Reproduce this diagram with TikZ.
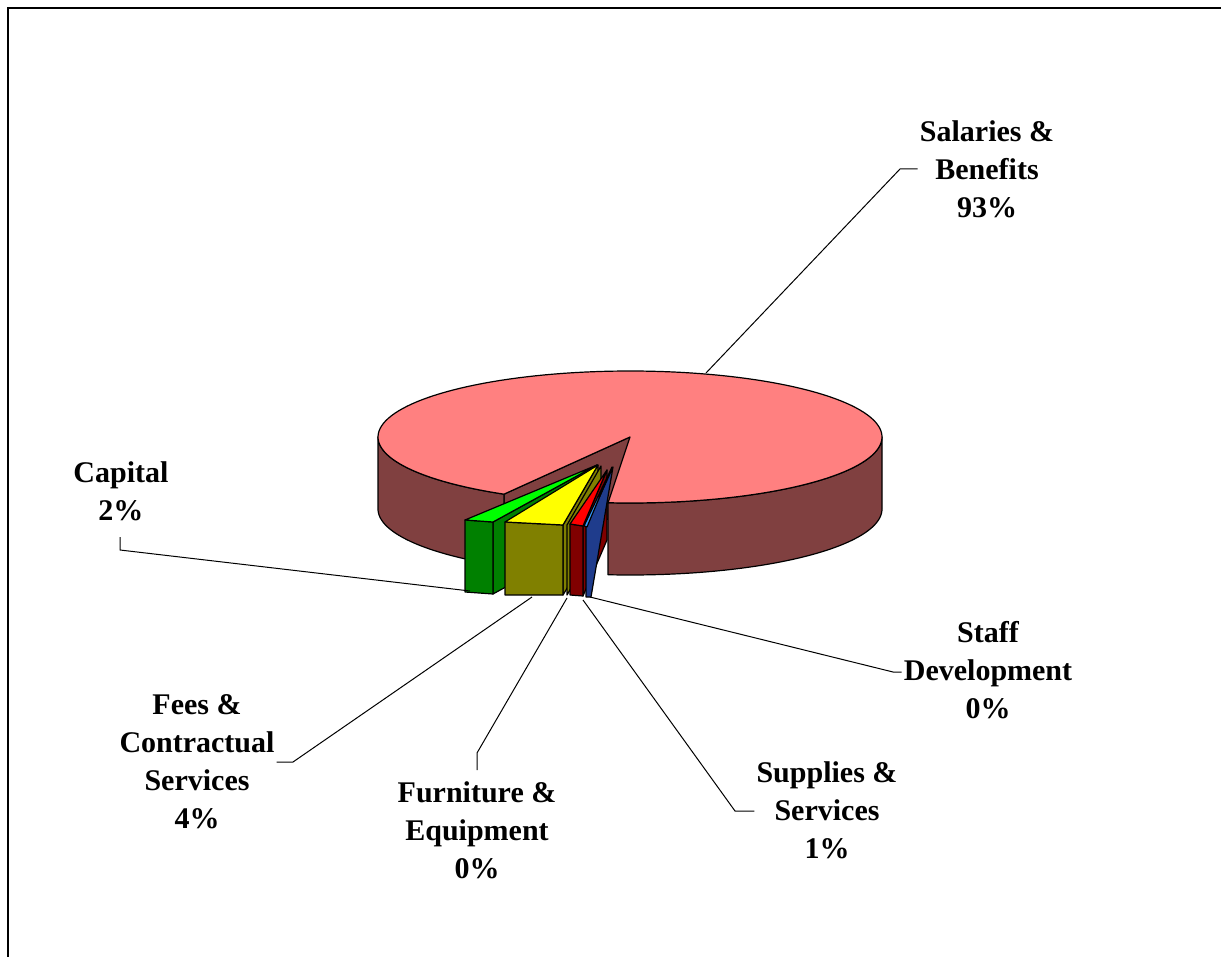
\documentclass[tikz,border=0pt]{standalone}
\usepackage{fontspec}
\setmainfont{Liberation Serif}
\definecolor{salTop}{HTML}{FF8080}
\definecolor{salSide}{HTML}{804040}
\definecolor{capTop}{HTML}{00FF00}
\definecolor{capSide}{HTML}{008000}
\definecolor{feeTop}{HTML}{FFFF00}
\definecolor{feeSide}{HTML}{808000}
\definecolor{supTop}{HTML}{FF0000}
\definecolor{supSide}{HTML}{800000}
\definecolor{stfTop}{HTML}{3399FF}
\definecolor{stfSide}{HTML}{1F3C8C}
\newcommand{\pieCx}{630}
\newcommand{\pieCy}{437}
\newcommand{\pieRx}{252}
\newcommand{\pieRy}{66}
\newcommand{\pieD}{72}
\begin{document}
\begin{tikzpicture}[x=1pt,y=-1pt,
    face/.style={draw=black,line width=1.2pt,line join=round},
    leader/.style={draw=black,line width=1pt},
    lbl/.style={font=\fontsize{30}{38}\selectfont\bfseries,align=center,inner sep=2pt,anchor=base}]
    \useasboundingbox (0,0) rectangle (1221,957);
    %% Frame
    \draw[line width=2pt] (8,957) -- (8,8) -- (1221,8);
    %% Pie body
    \coordinate (apex) at (\pieCx,\pieCy);
    \coordinate (apexB) at (\pieCx,\pieCy+\pieD);
    \coordinate (cutL) at ({\pieCx+\pieRx*cos(240)},{\pieCy-\pieRy*sin(240)});
    \coordinate (cutLB) at ({\pieCx+\pieRx*cos(240)},{\pieCy+\pieD-\pieRy*sin(240)});
    \filldraw[face,fill=salSide] (apex) -- (cutL) -- (cutLB) -- (apexB) -- cycle;
    \filldraw[face,fill=salSide] plot[domain=180:240,samples=40] ({\pieCx+\pieRx*cos(\x)},{\pieCy-\pieRy*sin(\x)})
        -- plot[domain=240:180,samples=40] ({\pieCx+\pieRx*cos(\x)},{\pieCy+\pieD-\pieRy*sin(\x)}) -- cycle;
    \filldraw[face,fill=salSide] plot[domain=265:360,samples=60] ({\pieCx+\pieRx*cos(\x)},{\pieCy-\pieRy*sin(\x)})
        -- plot[domain=360:265,samples=60] ({\pieCx+\pieRx*cos(\x)},{\pieCy+\pieD-\pieRy*sin(\x)}) -- cycle;
    \filldraw[face,fill=salTop] (apex) -- plot[domain=265:600,samples=150] ({\pieCx+\pieRx*cos(\x)},{\pieCy-\pieRy*sin(\x)}) -- cycle;
    %% Exploded slices
    % Capital
    \filldraw[face,fill=capSide] (493,522) -- (597,465) -- (597,537) -- (493,594) -- cycle;
    \filldraw[face,fill=capSide] (465,520) -- (493,522) -- (493,594) -- (465,592) -- cycle;
    \filldraw[face,fill=capTop] (465,520) -- (597,465) -- (493,522) -- cycle;
    % Fees & Contractual Services
    \filldraw[face,fill=feeSide] (563,525) -- (598,465) -- (598,537) -- (563,595) -- cycle;
    \filldraw[face,fill=feeSide] (505,522) -- (563,525) -- (563,595) -- (505,595) -- cycle;
    \filldraw[face,fill=feeTop] (505,522) -- (598,465) -- (563,525) -- cycle;
    % Furniture & Equipment
    \filldraw[face,fill=feeSide] (567,525) -- (601,466) -- (601,538) -- (567,595) -- cycle;
    % Supplies & Services
    \filldraw[face,fill=supSide] (583,526) -- (607,470) -- (607,540) -- (583,596) -- cycle;
    \filldraw[face,fill=supSide] (570,524) -- (583,526) -- (583,596) -- (570,595) -- cycle;
    \filldraw[face,fill=supTop] (570,524) -- (607,470) -- (583,526) -- cycle;
    % Staff Development
    \filldraw[face,fill=stfSide] (586,527) -- (613,467) -- (591,597) -- (586,597) -- cycle;
    \filldraw[face,fill=stfTop] (584,526) -- (612,467) -- (587,527) -- cycle;
    %% Labels (placed at the baseline of the last line)
    \node[lbl] (lblSal) at (987,218) {Salaries \&\\Benefits\\93\%};
    \node[lbl] (lblCap) at (121,520) {Capital\\2\%};
    \node[lbl] (lblStf) at (988,718) {Staff\\Development\\0\%};
    \node[lbl] (lblSup) at (827,858) {Supplies \&\\Services\\1\%};
    \node[lbl] (lblFur) at (477,878) {Furniture \&\\Equipment\\0\%};
    \node[lbl] (lblFee) at (197,828) {Fees \&\\Contractual\\Services\\4\%};
    %% Leaders
    \coordinate (salTip) at (706,373);
    \coordinate (salElb) at (900,169);
    \coordinate (capTip) at (470,591);
    \coordinate (capElb) at (120,550);
    \coordinate (capEnd) at (120,537);
    \coordinate (stfTip) at (590,597);
    \coordinate (stfElb) at (893,672);
    \coordinate (supTip) at (583,600);
    \coordinate (supElb) at (735,811);
    \coordinate (furTip) at (567,598);
    \coordinate (furElb) at (477,753);
    \coordinate (furEnd) at (477,770);
    \coordinate (feeTip) at (532,597);
    \coordinate (feeElb) at (293,762);
    \draw[leader] (salTip) -- (salElb) -- (salElb -| lblSal.west);
    \draw[leader] (capTip) -- (capElb) -- (capEnd);
    \draw[leader] (stfTip) -- (stfElb) -- (stfElb -| lblStf.west);
    \draw[leader] (supTip) -- (supElb) -- (supElb -| lblSup.west);
    \draw[leader] (furTip) -- (furElb) -- (furEnd);
    \draw[leader] (feeTip) -- (feeElb) -- (feeElb -| lblFee.east);
\end{tikzpicture}
\end{document}
